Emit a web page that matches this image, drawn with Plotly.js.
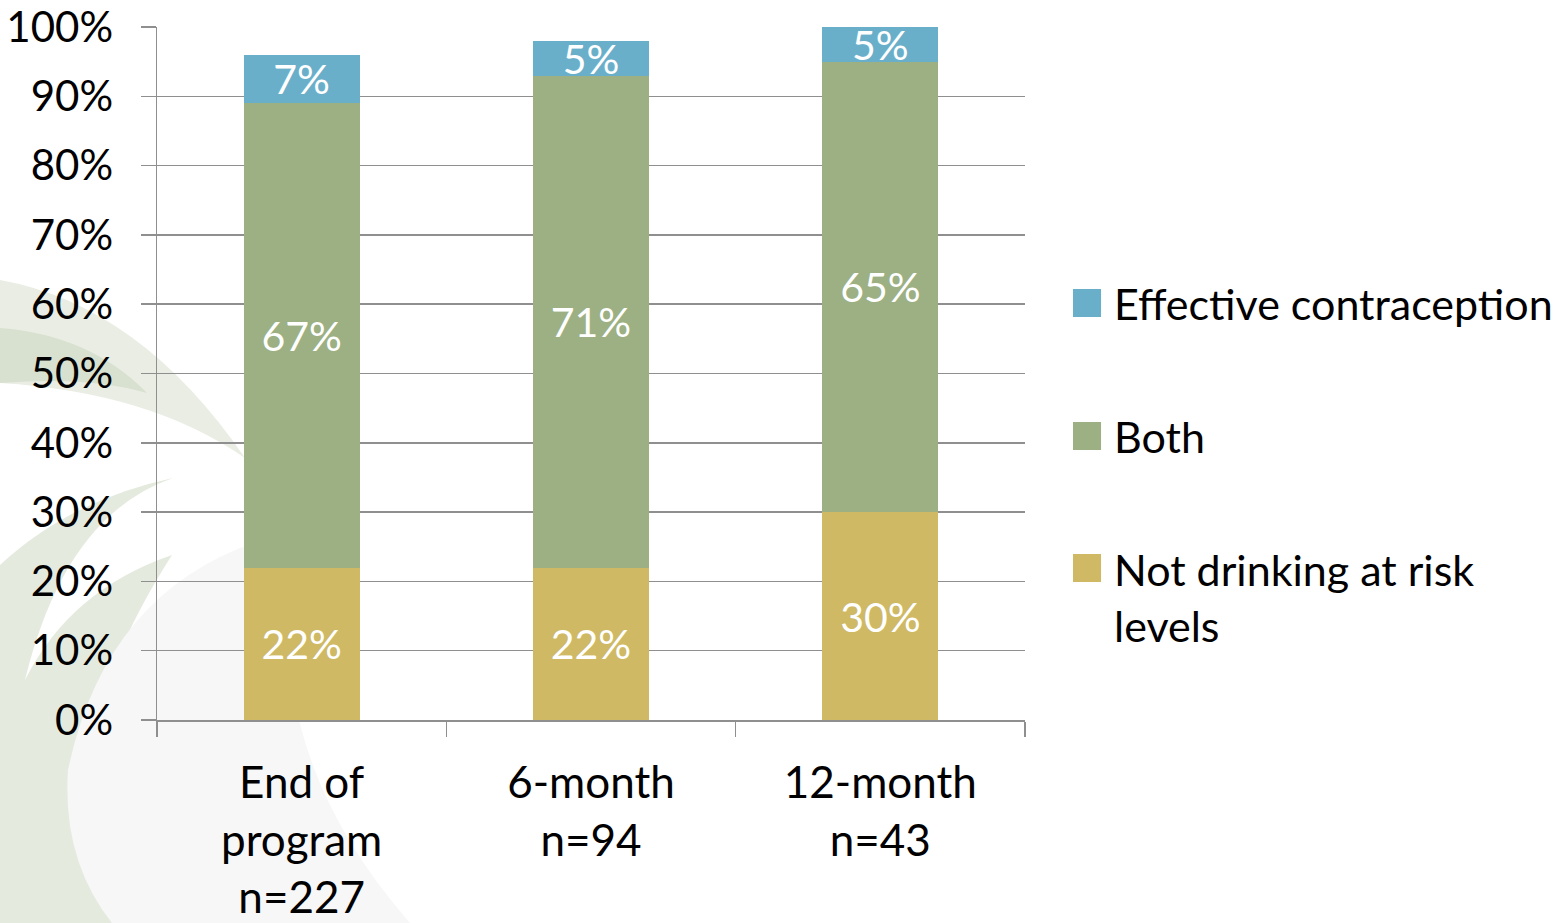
<!DOCTYPE html>
<html>
<head>
<meta charset="utf-8">
<script src="https://cdn.plot.ly/plotly-3.0.1.min.js"></script>
<style>
  html, body { margin: 0; padding: 0; background: #ffffff; }
  #wrap { position: relative; width: 1566px; height: 923px; overflow: hidden; }
  #deco { position: absolute; left: 0; top: 0; }
  #chart { position: absolute; left: 0; top: 0; width: 1566px; height: 923px; }
</style>
</head>
<body>
<div id="wrap">
  <!-- soft decorative swirl behind the chart -->
  <svg id="deco" width="1566" height="923" xmlns="http://www.w3.org/2000/svg">
    <path d="M0,280 Q140,305 245,458 Q150,392 0,383 Z" fill="#e9ede3"/>
    <path d="M0,328 Q90,335 147,393 Q90,376 0,383 Z" fill="#d8e0cf"/>
    <path d="M173,478 Q70,500 0,565 L0,923 L112,923 Q40,760 172,555 Q70,590 25,680 Q65,515 173,478 Z" fill="#e5eadf"/>
    <path d="M300,530 Q110,570 68,770 Q62,860 112,923 L410,923 Q250,740 300,530 Z" fill="#f7f7f7"/>
  </svg>
  <div id="chart"></div>
</div>
<script>
// Follow-up time points (axis categories)
const categories = ['End of<br>program<br>n=227', '6-month<br>n=94', '12-month<br>n=43'];

// Percentage of participants in each outcome group
const notDrinking = [22, 22, 30];
const both = [67, 71, 65];
const contraception = [7, 5, 5];

// Series names and colours (stack order bottom to top)
const seriesNames = ['Not drinking at risk<br>levels', 'Both', 'Effective contraception'];
const seriesValues = [notDrinking, both, contraception];
const seriesColors = ['#cfb965', '#9cb083', '#6aafca'];

// Y axis ticks
const yTicks = [0, 10, 20, 30, 40, 50, 60, 70, 80, 90, 100];
const yTickText = yTicks.map(v => v + '%');

const FONT = 'Lato, "Open Sans", sans-serif';
const GRID = '#8f8f8f';

const traces = seriesValues.map((vals, i) => ({
  type: 'bar',
  name: seriesNames[i],
  x: categories,
  y: vals,
  marker: { color: seriesColors[i], line: { width: 0 } },
  text: vals.map(v => v + '%'),
  textposition: 'inside',
  insidetextanchor: 'middle',
  textangle: 0,
  constraintext: 'none',
  textfont: { family: FONT, size: 41, color: '#ffffff' },
  hoverinfo: 'skip'
}));

// Hand-drawn legend on the right: large colour squares with labels
const legendY = [0.1768, 0.4098, 0.6017];   // vertical centre of each entry (paper units)
const squareY = [0.2193, 0.4098, 0.6017];
const half = 14 / 693;
const shapes = seriesNames.map((n, i) => ({
  type: 'rect', xref: 'paper', yref: 'paper',
  x0: 1.0553, x1: 1.0876,
  y0: squareY[i] - half, y1: squareY[i] + half,
  fillcolor: seriesColors[i], line: { width: 0 }
}));
const annotations = seriesNames.map((n, i) => ({
  xref: 'paper', yref: 'paper',
  x: 1.1, y: legendY[i],
  xanchor: 'left', yanchor: 'middle', align: 'left',
  text: n, showarrow: false,
  font: { family: FONT, size: 43, color: '#000000' }
}));

const layout = {
  width: 1566,
  height: 923,
  margin: { l: 157, r: 541, t: 27, b: 203, pad: 0 },
  paper_bgcolor: 'rgba(0,0,0,0)',
  plot_bgcolor: 'rgba(0,0,0,0)',
  barmode: 'stack',
  bargap: 0.6,
  showlegend: false,
  font: { family: FONT, color: '#000000' },
  xaxis: {
    type: 'category',
    tickson: 'boundaries',
    ticks: 'outside',
    ticklen: 15,
    tickwidth: 1.5,
    tickcolor: GRID,
    showline: true,
    linecolor: GRID,
    linewidth: 1.5,
    showgrid: false,
    ticklabelstandoff: 24,
    tickfont: { family: FONT, size: 44, color: '#000000' },
    fixedrange: true
  },
  yaxis: {
    range: [0, 100],
    tickmode: 'array',
    tickvals: yTicks,
    ticktext: yTickText,
    ticks: 'outside',
    ticklen: 15,
    tickwidth: 1.5,
    tickcolor: GRID,
    showline: true,
    linecolor: GRID,
    linewidth: 1.5,
    showgrid: true,
    gridcolor: GRID,
    gridwidth: 1.5,
    zeroline: false,
    ticklabelstandoff: 19,
    tickfont: { family: FONT, size: 42, color: '#000000' },
    fixedrange: true
  },
  shapes: shapes,
  annotations: annotations
};

Plotly.newPlot('chart', traces, layout, { displayModeBar: false, staticPlot: true });
</script>
</body>
</html>
